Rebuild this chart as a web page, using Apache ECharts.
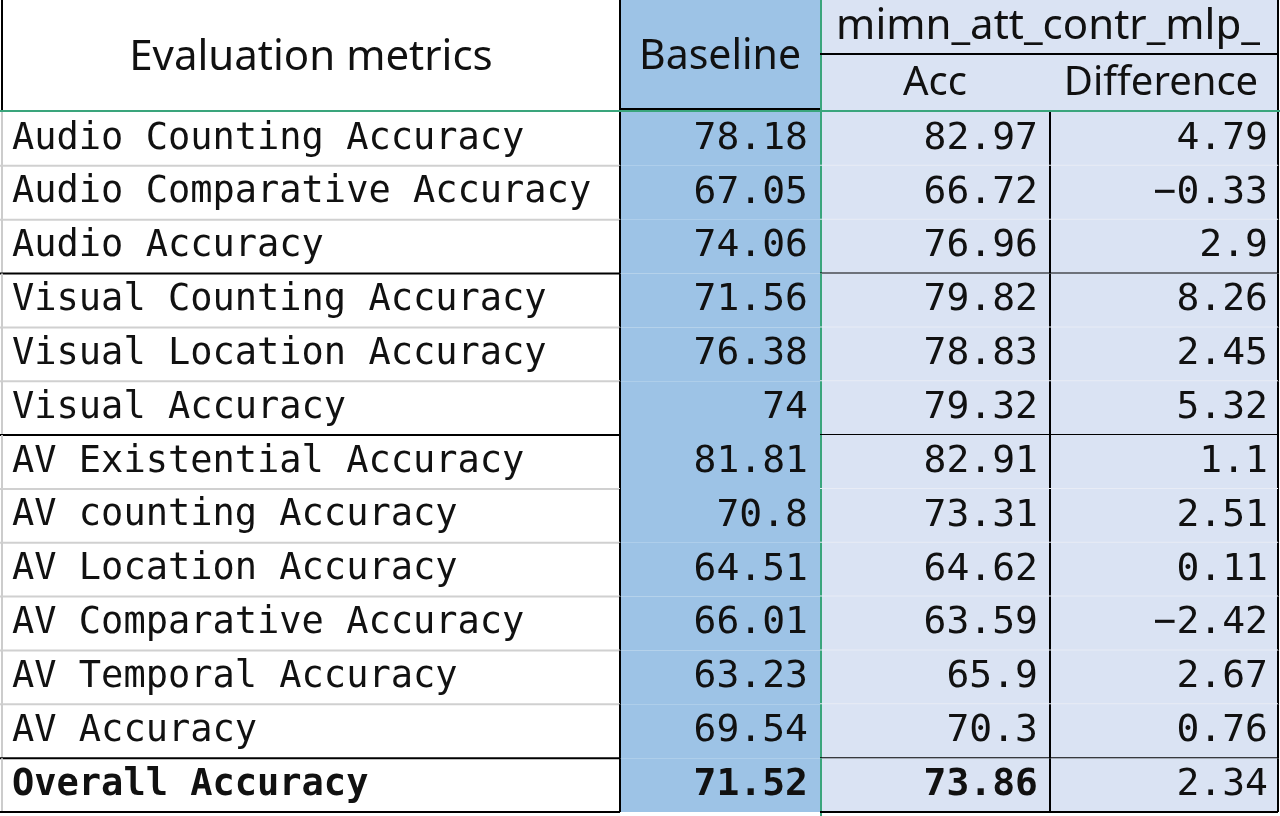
<!DOCTYPE html>
<html>
<head>
<meta charset="utf-8">
<script src="https://cdn.jsdelivr.net/npm/echarts@6/dist/echarts.min.js"></script>
<style>html,body{margin:0;padding:0;background:#fff}#chart{width:1280px;height:816px}</style>
</head>
<body>
<div id="chart"></div>
<script>
const metrics = [
    'Audio Counting Accuracy', 'Audio Comparative Accuracy', 'Audio Accuracy',
    'Visual Counting Accuracy', 'Visual Location Accuracy', 'Visual Accuracy',
    'AV Existential Accuracy', 'AV counting Accuracy', 'AV Location Accuracy',
    'AV Comparative Accuracy', 'AV Temporal Accuracy', 'AV Accuracy',
    'Overall Accuracy'
];
const baseline = ['78.18', '67.05', '74.06', '71.56', '76.38', '74', '81.81', '70.8', '64.51', '66.01', '63.23', '69.54', '71.52'];
const accValues = ['82.97', '66.72', '76.96', '79.82', '78.83', '79.32', '82.91', '73.31', '64.62', '63.59', '65.9', '70.3', '73.86'];
const diffValues = ['4.79', '−0.33', '2.9', '8.26', '2.45', '5.32', '1.1', '2.51', '0.11', '−2.42', '2.67', '0.76', '2.34'];
// rows after which a black separator line is drawn
const groupEnds = [2, 5, 11, 12];

const mono = 'DejaVu Sans Mono';
const chart = echarts.init(document.getElementById('chart'));

function renderRow(params, api) {
    const i = api.value(0);
    const c = api.coord([0, i]);
    const h = api.size([0, 1])[1];
    const top = c[1] - h / 2, bot = c[1] + h / 2, cy = c[1];
    const bold = i === metrics.length - 1;
    const numFont = (bold ? 'bold ' : '') + '38px "' + mono + '"';
    const kids = [
        { type: 'rect', shape: { x: 620, y: top, width: 200, height: h }, style: { fill: '#9dc3e6' } },
        { type: 'rect', shape: { x: 820, y: top, width: 458, height: h }, style: { fill: '#dae3f3' } },
        { type: 'text', style: { x: 12, y: cy, text: metrics[i], font: (bold ? 'bold ' : '') + '37px "' + mono + '"', fill: '#111', verticalAlign: 'middle' } },
        { type: 'text', style: { x: 808, y: cy, text: baseline[i], font: numFont, fill: '#111', align: 'right', verticalAlign: 'middle' } },
        { type: 'text', style: { x: 1038, y: cy, text: accValues[i], font: numFont, fill: '#111', align: 'right', verticalAlign: 'middle' } },
        { type: 'text', style: { x: 1268, y: cy, text: diffValues[i], font: '38px "' + mono + '"', fill: '#111', align: 'right', verticalAlign: 'middle' } },
        { type: 'line', shape: { x1: 2, y1: top, x2: 2, y2: bot }, style: { stroke: '#cccccc', lineWidth: 2 } },
        { type: 'line', shape: { x1: 620, y1: top, x2: 620, y2: bot }, style: { stroke: '#000', lineWidth: 2 } },
        { type: 'line', shape: { x1: 821, y1: top, x2: 821, y2: bot }, style: { stroke: '#3aa57c', lineWidth: 2 } },
        { type: 'line', shape: { x1: 1050, y1: top, x2: 1050, y2: bot }, style: { stroke: '#000', lineWidth: 2 } },
        { type: 'line', shape: { x1: 1278, y1: top, x2: 1278, y2: bot }, style: { stroke: '#000', lineWidth: 2 } }
    ];
    const isEnd = groupEnds.indexOf(i) >= 0;
    kids.push({ type: 'line', shape: { x1: 0, y1: bot, x2: 620, y2: bot }, style: { stroke: isEnd ? '#000' : '#d0d0d0', lineWidth: 2 } });
    kids.push({ type: 'line', shape: { x1: 820, y1: bot, x2: 1278, y2: bot }, style: { stroke: isEnd ? '#000' : '#e8ecf5', lineWidth: 2 } });
    return { type: 'group', children: kids };
}

const option = {
    animation: false,
    grid: { left: 0, right: 0, top: 112, bottom: 4 },
    xAxis: { type: 'value', min: 0, max: 1280, show: false },
    yAxis: { type: 'category', inverse: true, data: metrics, show: false },
    series: [{
        type: 'custom',
        renderItem: renderRow,
        data: metrics.map((m, i) => [i]),
        encode: { y: 0 }
    }],
    graphic: [
        { type: 'rect', shape: { x: 620, y: 0, width: 200, height: 110 }, style: { fill: '#9dc3e6' } },
        { type: 'rect', shape: { x: 820, y: 0, width: 458, height: 110 }, style: { fill: '#dae3f3' } },
        { type: 'text', style: { x: 311, y: 58, text: 'Evaluation metrics', font: '42px "Noto Sans"', fill: '#111', align: 'center', verticalAlign: 'middle' } },
        { type: 'text', style: { x: 720, y: 57, text: 'Baseline', font: '41px "Noto Sans"', fill: '#111', align: 'center', verticalAlign: 'middle' } },
        { type: 'text', style: { x: 1048, y: 27, text: 'mimn_att_contr_mlp_', font: '42px "Noto Sans"', fill: '#111', align: 'center', verticalAlign: 'middle' } },
        { type: 'text', style: { x: 935, y: 84, text: 'Acc', font: '40px "Noto Sans"', fill: '#111', align: 'center', verticalAlign: 'middle' } },
        { type: 'text', style: { x: 1161, y: 84, text: 'Difference', font: '40px "Noto Sans"', fill: '#111', align: 'center', verticalAlign: 'middle' } },
        { type: 'line', shape: { x1: 2, y1: 0, x2: 2, y2: 110 }, style: { stroke: '#000', lineWidth: 2 } },
        { type: 'line', shape: { x1: 620, y1: 0, x2: 620, y2: 110 }, style: { stroke: '#000', lineWidth: 2 } },
        { type: 'line', shape: { x1: 821, y1: 0, x2: 821, y2: 816 }, style: { stroke: '#3aa57c', lineWidth: 2 } },
        { type: 'line', shape: { x1: 1278, y1: 0, x2: 1278, y2: 110 }, style: { stroke: '#000', lineWidth: 2 } },
        { type: 'line', shape: { x1: 820, y1: 54, x2: 1278, y2: 54 }, style: { stroke: '#000', lineWidth: 2 } },
        { type: 'line', shape: { x1: 620, y1: 109, x2: 820, y2: 109 }, style: { stroke: '#000', lineWidth: 2 } },
        { type: 'line', shape: { x1: 0, y1: 111, x2: 1280, y2: 111 }, style: { stroke: '#3aa57c', lineWidth: 2 } }
    ]
};
chart.setOption(option);
</script>
</body>
</html>
